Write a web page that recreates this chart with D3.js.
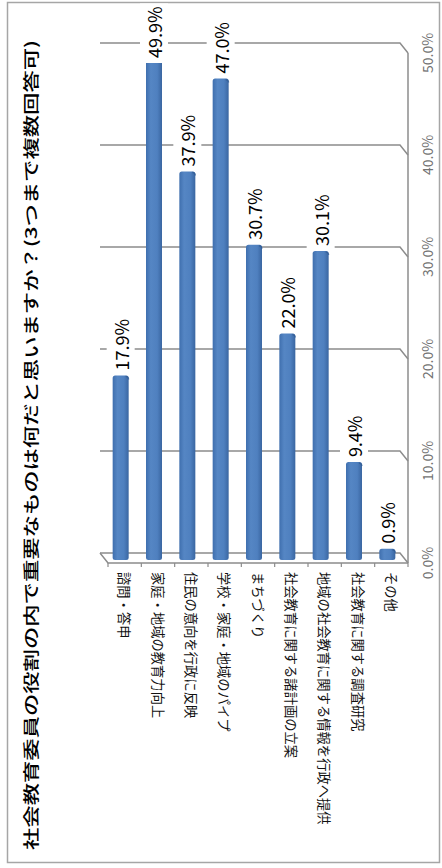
<!DOCTYPE html>
<html><head><meta charset="utf-8">
<script src="https://cdn.jsdelivr.net/npm/d3@7"></script>
<style>
html,body{margin:0;padding:0;background:#fff;}
svg{display:block;}
</style></head>
<body>
<script>
const title = "社会教育委員の役割の内で重要なものは何だと思いますか？(3つまで複数回答可)";
const categories = ["諮問・答申","家庭・地域の教育力向上","住民の意向を行政に反映","学校・家庭・地域のパイプ","まちづくり","社会教育に関する諸計画の立案","地域の社会教育に関する情報を行政へ提供","社会教育に関する調査研究","その他"];
const values = [17.9, 49.9, 37.9, 47.0, 30.7, 22.0, 30.1, 9.4, 0.9];
const tickValues = [0, 10, 20, 30, 40, 50];
const tickLabels = ["0.0%","10.0%","20.0%","30.0%","40.0%","50.0%"];

const W = 442, H = 868;
const svg = d3.select("body").append("svg").attr("width", W).attr("height", H);

// outer border
svg.append("rect").attr("x", 7.5).attr("y", 2.5).attr("width", 432).attr("height", 860)
  .attr("fill", "#fff").attr("stroke", "#a6a6a6").attr("stroke-width", 1.5);

// 3D geometry
const depthX = 8, depthY = 10;
const back = {left: 100, right: 400, top: 43, bottom: 553};
const y = d3.scaleLinear().domain([0, 50]).range([back.bottom, back.top]);
const x = d3.scaleBand().domain(categories).range([back.left, back.right]);
const xf = d3.scaleBand().domain(categories).range([back.left + depthX, back.right + depthX]);

const defs = svg.append("defs");
const grad = defs.append("linearGradient").attr("id", "barGrad").attr("x1", "0").attr("x2", "1").attr("y1", "0").attr("y2", "0");
grad.append("stop").attr("offset", "0%").attr("stop-color", "#3f6fae");
grad.append("stop").attr("offset", "30%").attr("stop-color", "#5586c4");
grad.append("stop").attr("offset", "70%").attr("stop-color", "#4f80bf");
grad.append("stop").attr("offset", "100%").attr("stop-color", "#3a66a1");
defs.append("clipPath").attr("id", "plotClip").append("rect")
  .attr("x", 0).attr("y", y(50) + 2 * depthY).attr("width", W).attr("height", H);

const gridColor = "#8c8c8c";
const grid = svg.append("g");
tickValues.forEach(t => {
  grid.append("path")
    .attr("d", `M${back.left},${y(t)}H${back.right}L${back.right + depthX},${y(t) + depthY}`)
    .attr("fill", "none").attr("stroke", gridColor).attr("stroke-width", 1.5);
});
grid.append("path")
  .attr("d", `M${back.left},${y(0)}L${back.left + depthX},${y(0) + depthY}H${back.right + depthX}`)
  .attr("fill", "none").attr("stroke", gridColor).attr("stroke-width", 1.5);
grid.append("line").attr("x1", back.right + depthX).attr("x2", back.right + depthX)
  .attr("y1", y(50) + depthY).attr("y2", y(0) + depthY).attr("stroke", gridColor).attr("stroke-width", 1.5);
const bounds = categories.map(c => xf(c)).concat([xf(categories[categories.length - 1]) + xf.bandwidth()]);
bounds.forEach(b => {
  grid.append("line").attr("x1", b).attr("x2", b).attr("y1", y(0) + depthY).attr("y2", y(0) + depthY + 4)
    .attr("stroke", gridColor).attr("stroke-width", 1.2);
});

const fontFam = "'Noto Sans CJK JP','Noto Sans',sans-serif";
tickValues.forEach((t, i) => {
  svg.append("text")
    .attr("transform", `translate(${back.right + depthX + 19},${y(t) + depthY}) rotate(-90)`)
    .attr("text-anchor", "middle").attr("dominant-baseline", "central")
    .attr("font-family", fontFam).attr("font-size", 14).attr("fill", "#737373")
    .text(tickLabels[i]);
});

// bars
const barW = 16;
const bars = svg.append("g").attr("clip-path", "url(#plotClip)");
const clipTop = y(50) + 2 * depthY;
const barX = c => x(c) + x.bandwidth() / 2 + depthX / 2 - barW / 2;
const barTop = v => y(v) + depthY / 2;
const barBottom = y(0) + depthY / 2 + 2;
categories.forEach((c, i) => {
  const top = barTop(values[i]);
  bars.append("rect").attr("x", barX(c)).attr("y", top)
    .attr("width", barW).attr("height", barBottom - top)
    .attr("rx", 2.5).attr("fill", "url(#barGrad)");
  bars.append("path")
    .attr("d", `M${barX(c) + barW - 3},${top + 1}q3,0.5 3,3`)
    .attr("fill", "none").attr("stroke", "#2f5a92").attr("stroke-width", 1.2).attr("opacity", 0.7);
});

// value labels
const labels = svg.append("g");
categories.forEach((c, i) => {
  const top = Math.max(barTop(values[i]), clipTop);
  const g = labels.append("g")
    .attr("transform", `translate(${barX(c) + barW / 2},${top - 5}) rotate(-90)`);
  const bg = g.append("rect").attr("fill", "#fff");
  const t = g.append("text").attr("text-anchor", "start").attr("dominant-baseline", "central")
    .attr("font-family", fontFam).attr("font-size", 18).attr("fill", "#000")
    .text(values[i].toFixed(1) + "%");
  const bb = t.node().getBBox();
  bg.attr("x", bb.x - 3).attr("y", bb.y - 1).attr("width", bb.width + 6).attr("height", bb.height + 2);
});

// category labels
categories.forEach(c => {
  svg.append("text")
    .attr("transform", `translate(${xf(c) + xf.bandwidth() / 2},${y(0) + depthY + 9}) rotate(90)`)
    .attr("text-anchor", "start").attr("dominant-baseline", "central")
    .attr("font-family", fontFam).attr("font-size", 13.3).attr("fill", "#111")
    .text(c);
});

// title
svg.append("text")
  .attr("transform", `translate(30,850) rotate(-90)`)
  .attr("text-anchor", "start").attr("dominant-baseline", "central")
  .attr("font-family", fontFam).attr("font-size", 16).attr("font-weight", 500).attr("fill", "#000")
  .attr("textLength", 810).attr("lengthAdjust", "spacingAndGlyphs")
  .text(title);
</script>
</body></html>
